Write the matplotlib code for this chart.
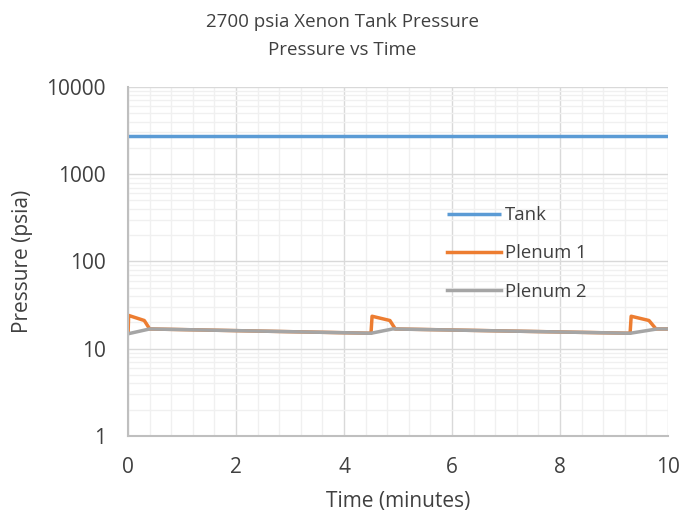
import matplotlib
matplotlib.use('Agg')
import matplotlib.pyplot as plt
from matplotlib.ticker import FixedLocator, LogLocator, MultipleLocator, NullFormatter

plt.rcParams['font.family'] = ['Open Sans', 'DejaVu Sans']

# tank pressure (psia)
tank_t = [0, 10]
tank_p = [2700, 2700]

# plenum 1 (orange)
p1_t = [0, 0.01, 0.3, 0.4, 4.5, 4.52, 4.85, 4.95, 9.3, 9.32, 9.65, 9.78, 10]
p1_p = [15.0, 24.0, 21.0, 16.8, 15.0, 23.5, 21.0, 16.8, 15.0, 23.5, 21.0, 16.8, 16.8]

# plenum 2 (gray)
p2_t = [0, 0.4, 4.5, 4.9, 9.3, 9.8, 10]
p2_p = [14.8, 16.8, 15.0, 16.8, 15.0, 16.8, 16.8]

txt = '#404040'

fig = plt.figure(figsize=(6.85, 5.14), dpi=100)
ax = fig.add_axes([0.187, 0.152, 0.788, 0.679])

ax.plot(tank_t, tank_p, color='#5B9BD5', lw=2.5, label='Tank', solid_capstyle='butt')
ax.plot(p1_t, p1_p, color='#ED7D31', lw=2.5, label='Plenum 1')
ax.plot(p2_t, p2_p, color='#A5A5A5', lw=2.5, label='Plenum 2')

ax.set_yscale('log')
ax.set_ylim(1, 10000)
ax.set_xlim(0, 10)
ax.yaxis.set_major_locator(FixedLocator([1, 10, 100, 1000, 10000]))
ax.set_yticklabels(['1', '10', '100', '1000', '10000'])
ax.yaxis.set_minor_locator(LogLocator(base=10, subs=range(2, 10)))
ax.yaxis.set_minor_formatter(NullFormatter())
ax.xaxis.set_major_locator(MultipleLocator(2))
ax.xaxis.set_minor_locator(MultipleLocator(0.4))

ax.grid(True, which='major', color='#d9d9d9', lw=1)
ax.grid(True, which='minor', color='#f0f0f0', lw=1)
ax.set_axisbelow(True)

for s in ['top', 'right']:
    ax.spines[s].set_visible(False)
for s in ['left', 'bottom']:
    ax.spines[s].set_color('#bfbfbf')
    ax.spines[s].set_linewidth(1.5)
ax.tick_params(which='both', length=0, labelsize=15, colors=txt)
ax.tick_params(axis='y', pad=16)
ax.tick_params(axis='x', pad=15)

ax.set_xlabel('Time (minutes)', fontsize=15, color=txt)
ax.xaxis.set_label_coords(0.5, -0.158)
ax.set_ylabel('Pressure (psia)', fontsize=15, color=txt)
ax.yaxis.set_label_coords(-0.176, 0.5)

fig.text(0.5, 1 - 22 / 514, '2700 psia Xenon Tank Pressure', ha='center', va='center',
         fontsize=13.5, color=txt)
fig.text(0.5, 1 - 50 / 514, 'Pressure vs Time', ha='center', va='center',
         fontsize=13.5, color=txt)

ax.legend(loc='upper left', bbox_to_anchor=(447 / 685, 1 - 206 / 514),
          bbox_transform=fig.transFigure, frameon=False, borderpad=0, borderaxespad=0,
          fontsize=13.3, handlelength=2.9, handletextpad=0.25, labelspacing=1.1,
          labelcolor=txt)

fig.savefig('out.png', dpi=100)
